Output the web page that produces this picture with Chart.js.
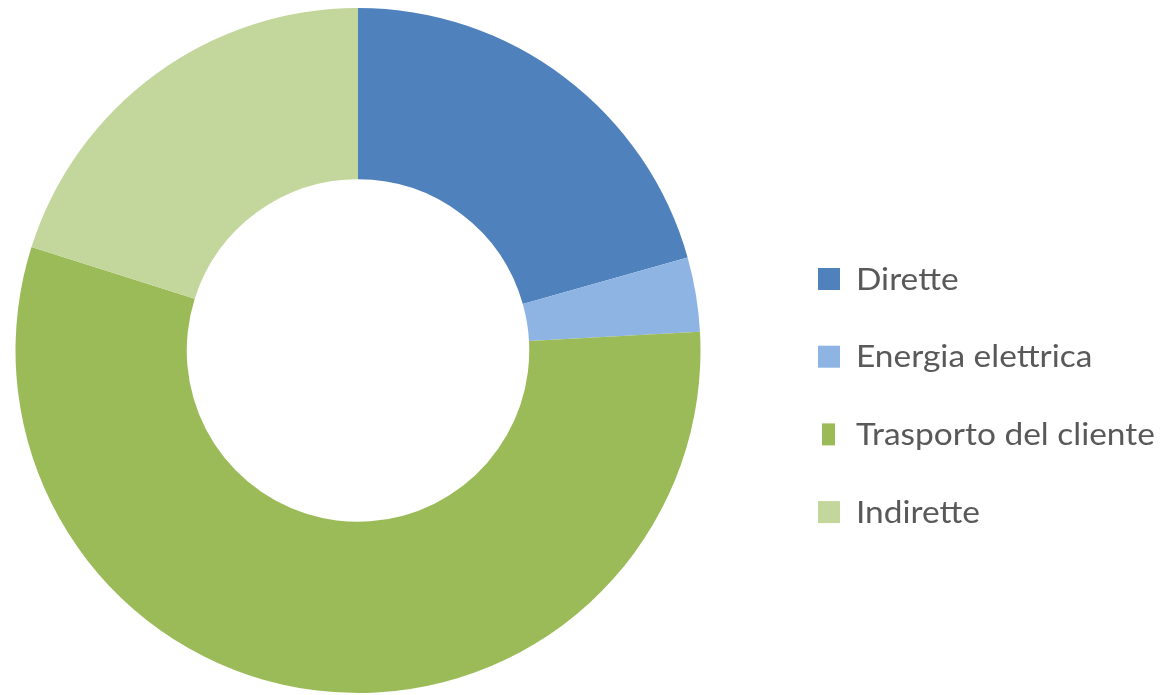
<!DOCTYPE html>
<html>
<head>
<meta charset="utf-8">
<script src="https://cdn.jsdelivr.net/npm/chart.js@4/dist/chart.umd.min.js"></script>
<style>
  html, body { margin: 0; padding: 0; background: #ffffff; }
  #wrap { width: 1163px; height: 695px; position: relative; }
</style>
</head>
<body>
<div id="wrap"><canvas id="c" width="1163" height="695"></canvas></div>
<script>
// Emission categories and their shares (%)
const categories = ['Dirette', 'Energia elettrica', 'Trasporto del cliente', 'Indirette'];
const shares = [20.6, 3.5, 55.7, 20.1];
const colors = ['#4F81BD', '#8EB4E3', '#9BBB59', '#C3D69B'];

// Legend drawn to the right of the ring, one row per category
const sideLegend = {
  id: 'sideLegend',
  afterDraw(chart) {
    const ctx = chart.ctx;
    const labels = chart.data.labels;
    const bg = chart.data.datasets[0].backgroundColor;
    const boxX = 818, box = 22, textX = 856;
    const firstY = 279, step = 77.7;
    const stretch = 1.115; // slightly wider glyphs than the base face
    ctx.save();
    ctx.font = '30px Lato, "Open Sans", sans-serif';
    ctx.textBaseline = 'middle';
    ctx.textAlign = 'left';
    labels.forEach((lab, i) => {
      const y = firstY + i * step;
      ctx.fillStyle = bg[i];
      if (i === 2) {
        ctx.fillRect(boxX + 4, y - box / 2, 13, box);
      } else {
        ctx.fillRect(boxX, y - box / 2, box, box);
      }
      ctx.save();
      ctx.translate(textX, y + 1);
      ctx.scale(stretch, 1);
      ctx.fillStyle = '#595959';
      ctx.fillText(lab, 0, 0);
      ctx.restore();
    });
    ctx.restore();
  }
};

new Chart(document.getElementById('c'), {
  type: 'doughnut',
  data: {
    labels: categories,
    datasets: [{
      data: shares,
      backgroundColor: colors,
      borderWidth: 0,
      hoverOffset: 0
    }]
  },
  options: {
    responsive: false,
    animation: false,
    cutout: '50%',
    layout: { padding: { left: 15, right: 462, top: 8, bottom: 2 } },
    plugins: {
      legend: { display: false },
      tooltip: { enabled: false }
    }
  },
  plugins: [sideLegend]
});
</script>
</body>
</html>
